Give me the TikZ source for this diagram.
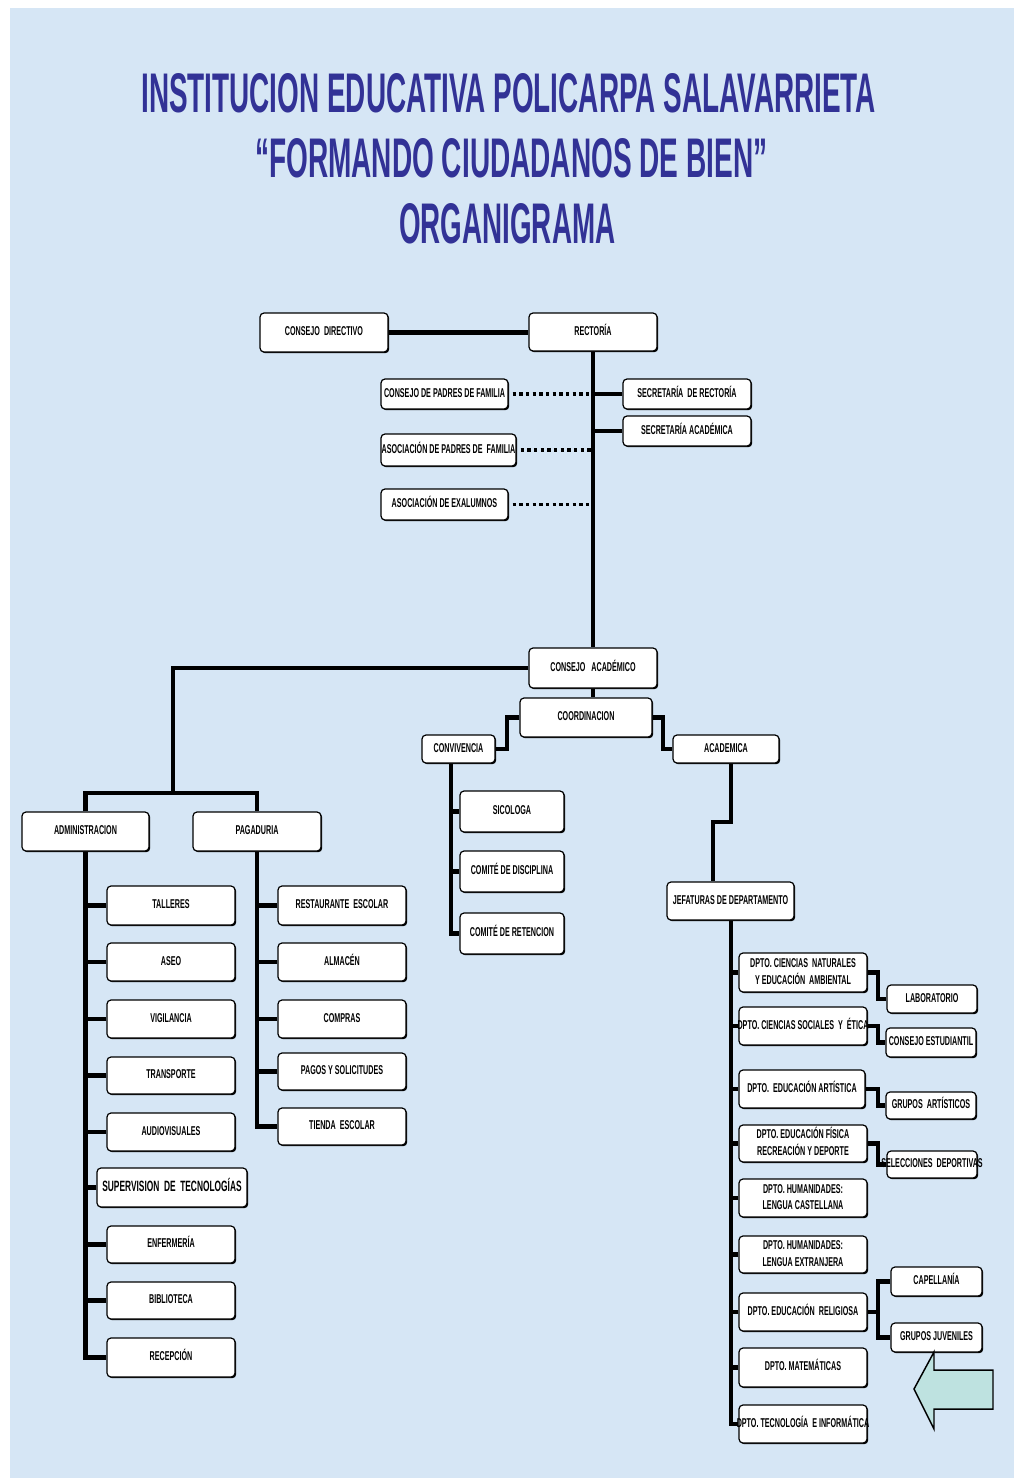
\documentclass[tikz,border=0pt]{standalone}
\usepackage{fontspec}
\usepackage{graphicx}
\setmainfont{Liberation Sans}[FakeStretch=0.56]
\newfontfamily\titlefont{Liberation Sans}
\usetikzlibrary{shadows}
\definecolor{pagebg}{RGB}{214,230,245}
\definecolor{titleblue}{RGB}{50,50,150}
\definecolor{arrowfill}{RGB}{190,226,224}
\newlength\pu \setlength\pu{0.75pt}
\newcommand\tx[1]{\makebox[0pt]{\begin{tabular}{@{}c@{}}#1\end{tabular}}}
\newcommand\obox[7][]{\node[bx,#1,minimum width={(#5-#3)*0.75pt},minimum height={(#6-#4)*0.75pt}] (#2) at ({(#3+#5)/2},{(#4+#6)/2}) {\tx{#7}};}
\pgfdeclarelayer{back}\pgfdeclarelayer{lines}\pgfsetlayers{back,lines,main}
\begin{document}
\begin{tikzpicture}[x=0.75pt,y=-0.75pt,
 bx/.style={draw=black, line width=0.9pt, fill=white, rounded corners=3pt, inner sep=0pt,
   font=\fontsize{9.6}{12.5}\selectfont\bfseries,
   drop shadow={shadow xshift=0.9pt, shadow yshift=-0.9pt, fill=black, opacity=1}},
 conn/.style={line width=3.4pt, draw=black},
 dotline/.style={line width=2.8pt, dash pattern=on 2.6pt off 2.4pt},
 ttl/.style={anchor=base west, inner sep=0pt, text=titleblue, font=\titlefont\bfseries}]
\useasboundingbox (0,0) rectangle (1014,1478);
\begin{pgfonlayer}{back}
\fill[white] (0,0) rectangle (1014,1478);
\fill[pagebg] (10,8) rectangle (1014,1478);
\end{pgfonlayer}

% Title
\node[ttl] (t1) at (141,112) {\resizebox{551pt}{29.25pt}{INSTITUCION EDUCATIVA POLICARPA SALAVARRIETA}};
\node[ttl] (t2) at (255,177) {\resizebox{384pt}{29.25pt}{“FORMANDO CIUDADANOS DE BIEN”}};
\node[ttl] (t3) at (399,243) {\resizebox{162pt}{30pt}{ORGANIGRAMA}};

% Top
\obox{cdir}{260}{313}{388}{352}{CONSEJO\ \ DIRECTIVO}
\obox{rect}{529}{313}{657}{351}{RECTORÍA}
\obox{cpf}{381}{379}{508}{409}{CONSEJO DE PADRES DE FAMILIA}
\obox{apf}{381}{434}{516}{466}{ASOCIACIÓN DE PADRES DE\ \ FAMILIA}
\obox{aex}{381}{489}{508}{520}{ASOCIACIÓN DE EXALUMNOS}
\obox{secr}{623}{379}{751}{409}{SECRETARÍA\ \ DE RECTORÍA}
\obox{seca}{623}{416}{751}{446}{SECRETARÍA ACADÉMICA}
\obox{cac}{529}{648}{657}{688}{CONSEJO\ \ \ ACADÉMICO}
\obox{coord}{520}{698}{652}{737}{COORDINACION}
\obox{conv}{422}{735}{495}{763}{CONVIVENCIA}
\obox{aca}{673}{735}{779}{763}{ACADEMICA}
\obox{sic}{460}{791}{564}{832}{SICOLOGA}
\obox{cdis}{460}{851}{564}{892}{COMITÉ DE DISCIPLINA}
\obox{cret}{460}{913}{564}{954}{COMITÉ DE RETENCION}
\obox{jef}{667}{882}{794}{920}{JEFATURAS DE DEPARTAMENTO}

% Administracion / Pagaduria
\obox{adm}{22}{812}{149}{851}{ADMINISTRACION}
\obox{pag}{193}{812}{321}{851}{PAGADURIA}
\obox{tal}{107}{886}{235}{925}{TALLERES}
\obox{aseo}{107}{943}{235}{981}{ASEO}
\obox{vig}{107}{1000}{235}{1038}{VIGILANCIA}
\obox{tra}{107}{1057}{235}{1094}{TRANSPORTE}
\obox{aud}{107}{1113}{235}{1151}{AUDIOVISUALES}
\obox[font=\fontsize{11.2}{13}\selectfont\bfseries]{sup}{97}{1168}{247}{1207}{SUPERVISION\ \ DE\ \ TECNOLOGÍAS}
\obox{enf}{107}{1226}{235}{1263}{ENFERMERÍA}
\obox{bib}{107}{1282}{235}{1319}{BIBLIOTECA}
\obox{rec}{107}{1338}{235}{1377}{RECEPCIÓN}
\obox{res}{278}{886}{406}{925}{RESTAURANTE\ \ ESCOLAR}
\obox{alm}{278}{943}{406}{981}{ALMACÉN}
\obox{com}{278}{1000}{406}{1038}{COMPRAS}
\obox{pagos}{278}{1053}{406}{1090}{PAGOS Y SOLICITUDES}
\obox{tie}{278}{1108}{406}{1145}{TIENDA\ \ ESCOLAR}

% Departamentos
\obox{dcn}{739}{953}{867}{992}{DPTO. CIENCIAS\ \ NATURALES\\Y EDUCACIÓN\ \ AMBIENTAL}
\obox{dcs}{739}{1007}{867}{1045}{DPTO. CIENCIAS SOCIALES\ \ Y\ \ ÉTICA}
\obox{dart}{739}{1070}{865}{1108}{DPTO.\ \ EDUCACIÓN ARTÍSTICA}
\obox{def}{739}{1125}{867}{1162}{DPTO. EDUCACIÓN FÍSICA\\RECREACIÓN Y DEPORTE}
\obox{dlc}{739}{1179}{867}{1217}{DPTO. HUMANIDADES:\\LENGUA CASTELLANA}
\obox{dle}{739}{1236}{867}{1273}{DPTO. HUMANIDADES:\\LENGUA EXTRANJERA}
\obox{drel}{739}{1293}{867}{1331}{DPTO. EDUCACIÓN\ \ RELIGIOSA}
\obox{dmat}{739}{1348}{867}{1387}{DPTO. MATEMÁTICAS}
\obox{dtec}{739}{1405}{867}{1443}{DPTO. TECNOLOGÍA\ \ E INFORMÁTICA}
\obox{lab}{887}{985}{977}{1013}{LABORATORIO}
\obox{cest}{886}{1028}{976}{1057}{CONSEJO ESTUDIANTIL}
\obox{gart}{886}{1092}{976}{1119}{GRUPOS\ \ ARTÍSTICOS}
\obox{sel}{887}{1151}{977}{1178}{SELECCIONES\ \ DEPORTIVAS}
\obox{cap}{891}{1267}{982}{1296}{CAPELLANÍA}
\obox{gju}{891}{1323}{982}{1352}{GRUPOS JUVENILES}

% helper coordinates
\coordinate (L1) at (173,793);
\coordinate (C1) at (507,749);
\coordinate (C2) at (663,749);
\coordinate (A1) at (731,822);
\coordinate (A2) at (713,822);
\coordinate (VS) at (451,763);
\coordinate (K) at (878,1000);

\begin{pgfonlayer}{lines}
\draw[conn] (cdir.east) -- (cdir.east -| rect.west);
\draw[conn] (rect.south) -- (rect.south |- cac.north);
\foreach \n in {cpf,apf,aex} \draw[dotline] ([xshift=3pt]\n.east) -- (\n.east -| rect.south);
\foreach \n in {secr,seca} \draw[conn] (\n.west) -- (\n.west -| rect.south);
\draw[conn] (cac.west) -| (L1);
\draw[conn] (adm.north) |- (L1) -| (pag.north);
\draw[conn] (adm.south) |- (rec.west);
\foreach \n in {tal,aseo,vig,tra,aud,sup,enf,bib} \draw[conn] (\n.west) -- (\n.west -| adm.south);
\draw[conn] (pag.south) |- (tie.west);
\foreach \n in {res,alm,com,pagos} \draw[conn] (\n.west) -- (\n.west -| pag.south);
\draw[conn] (cac.south) -- (cac.south |- coord.north);
\draw[conn] (coord.west) -| (C1) -- (conv.east);
\draw[conn] (coord.east) -| (C2) -- (aca.west);
\draw[conn] (aca.south -| A1) -- (A1) -- (A2) -- (A2 |- jef.north);
\draw[conn] (VS) |- (cret.west);
\foreach \n in {sic,cdis} \draw[conn] (\n.west) -- (\n.west -| VS);
\draw[conn] (jef.south -| A1) |- (dtec.west);
\foreach \n in {dcn,dcs,dart,def,dlc,dle,drel,dmat} \draw[conn] (\n.west) -- (\n.west -| A1);
\draw[conn] (dcn.east) -- (dcn.east -| K) |- (lab.west);
\draw[conn] (dcs.east) -- (dcs.east -| K) |- (cest.west);
\draw[conn] (dart.east) -- (dart.east -| K) |- (gart.west);
\draw[conn] (def.east) -- (def.east -| K) |- (sel.west);
\draw[conn] (drel.east) -- (drel.east -| K);
\draw[conn] (cap.west) -| (drel.east -| K) |- (gju.west);
\end{pgfonlayer}

% arrow
\filldraw[fill=arrowfill, draw=black, line width=1.1pt] (914,1389) -- (934,1352) -- (934,1370) -- (993,1370) -- (993,1409) -- (934,1409) -- (934,1429) -- cycle;
\end{tikzpicture}
\end{document}
